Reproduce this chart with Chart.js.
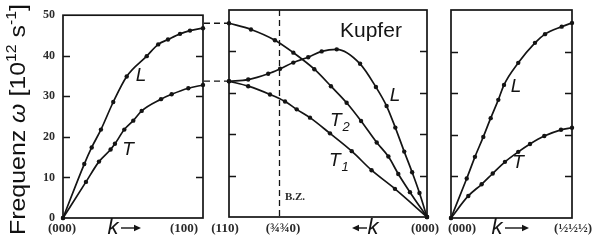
<!DOCTYPE html>
<html>
<head>
<meta charset="utf-8">
<title>Kupfer Phononen</title>
<script src="https://cdn.jsdelivr.net/npm/chart.js@4.4.0/dist/chart.umd.min.js"></script>
<style>
  body { margin: 0; background: #fff; }
  #wrap { position: relative; width: 599px; height: 240px; }
  canvas { position: absolute; left: 0; top: 0; }
</style>
</head>
<body>
<div id="wrap">
  <canvas id="c1" width="599" height="240"></canvas>
  <canvas id="c2" width="599" height="240"></canvas>
  <canvas id="c3" width="599" height="240"></canvas>
</div>
<script>
// frequency axis (10^12 s^-1)
var wTicks = [0, 10, 20, 30, 40, 50];

// (000) -> (100), k as fraction of the path
var k100L = [0, 0.152, 0.205, 0.271, 0.359, 0.455, 0.598, 0.68, 0.75, 0.836, 0.907, 1];
var w100L = [0, 13.3, 17.4, 21.8, 28.6, 34.9, 39.9, 42.8, 44.0, 45.4, 46.2, 46.8];
var k100T = [0, 0.164, 0.257, 0.34, 0.371, 0.438, 0.502, 0.562, 0.7, 0.776, 0.895, 1];
var w100T = [0, 8.9, 13.9, 16.9, 18.3, 21.8, 24.0, 26.4, 29.3, 30.5, 32.0, 32.8];

// (110) -> (000), 0 = (110)
var k110L = [0, 0.097, 0.198, 0.258, 0.325, 0.40, 0.468, 0.544, 0.662, 0.742, 0.796, 0.84, 0.885, 0.925, 0.962, 1];
var w110L = [32.8, 33.2, 34.6, 35.8, 37.3, 38.6, 40.0, 40.5, 37.0, 31.4, 26.8, 21.6, 15.8, 10.8, 5.8, 0];
var k110T2 = [0, 0.111, 0.232, 0.325, 0.431, 0.515, 0.594, 0.667, 0.746, 0.805, 0.855, 0.914, 1];
var w110T2 = [46.8, 45.3, 42.7, 39.7, 35.7, 31.6, 27.6, 23.2, 18.0, 14.6, 10.4, 6.0, 0];
var k110T1 = [0, 0.097, 0.207, 0.283, 0.342, 0.409, 0.51, 0.62, 0.72, 0.838, 1];
var w110T1 = [32.8, 31.6, 29.6, 27.9, 26.0, 24.0, 20.2, 15.9, 11.3, 6.8, 0];
var zoneEdge = 0.25; // (3/4 3/4 0)

// (000) -> (1/2 1/2 1/2)
var k111L = [0, 0.13, 0.198, 0.267, 0.328, 0.391, 0.438, 0.556, 0.694, 0.777, 0.915, 1];
var w111L = [0, 9.5, 14.7, 19.5, 24.0, 28.4, 32.0, 37.3, 42.1, 44.2, 46.0, 46.9];
var k111T = [0, 0.143, 0.253, 0.345, 0.446, 0.556, 0.653, 0.771, 0.909, 1];
var w111T = [0, 5.3, 8.1, 10.7, 13.5, 15.9, 17.8, 19.7, 21.2, 21.7];

var ink = '#141414';
var serif = '"Liberation Serif", serif';
var sans = '"Liberation Sans", Arial, sans-serif';
var kfont = 'bold 13px ' + serif;

function series(ks, ws) {
  return {
    data: ks.map(function(k, i) { return { x: k, y: ws[i] }; }),
    borderColor: ink,
    backgroundColor: ink,
    borderWidth: 1.7,
    pointRadius: 2.2,
    pointHoverRadius: 2.2,
    pointBorderWidth: 0,
    cubicInterpolationMode: 'monotone',
    clip: 6
  };
}

function txt(c, s, x, y, font, align, base) {
  c.font = font;
  c.textAlign = align || 'center';
  c.textBaseline = base || 'middle';
  c.fillText(s, x, y);
}

function arrow(c, x1, x2, y) {
  var d = x2 > x1 ? 1 : -1;
  c.beginPath();
  c.moveTo(x1, y); c.lineTo(x2 - d * 5, y);
  c.lineWidth = 1.4;
  c.stroke();
  c.beginPath();
  c.moveTo(x2, y); c.lineTo(x2 - d * 7, y - 3.2); c.lineTo(x2 - d * 7, y + 3.2);
  c.closePath();
  c.fill();
}

function sub(c, base, s, x, y) {
  txt(c, base, x, y, 'italic 19px ' + sans, 'left', 'alphabetic');
  var w = c.measureText(base).width;
  txt(c, s, x + w + 1, y + 5, 'italic 13px ' + sans, 'left', 'alphabetic');
}

var frame = {
  id: 'frame',
  afterDraw: function(chart) {
    var a = chart.chartArea, c = chart.ctx, y = chart.scales.y;
    c.save();
    c.strokeStyle = ink;
    c.lineWidth = 1.7;
    c.strokeRect(a.left, a.top, a.right - a.left, a.bottom - a.top);
    c.lineWidth = 1.3;
    wTicks.slice(1, -1).forEach(function(v) {
      var py = Math.round(y.getPixelForValue(v)) + 0.5;
      c.beginPath();
      c.moveTo(a.left, py); c.lineTo(a.left + 7, py);
      c.moveTo(a.right, py); c.lineTo(a.right - 7, py);
      c.stroke();
    });
    c.restore();
  }
};

function makeChart(id, pad, sets, showY, draw) {
  return new Chart(document.getElementById(id), {
    type: 'line',
    data: { datasets: sets },
    options: {
      responsive: false,
      animation: false,
      layout: { padding: pad },
      plugins: { legend: { display: false }, tooltip: { enabled: false } },
      scales: {
        x: { type: 'linear', min: 0, max: 1, display: false },
        y: {
          type: 'linear',
          min: wTicks[0],
          max: wTicks[wTicks.length - 1],
          display: showY,
          grid: { display: false, drawTicks: false },
          border: { display: false },
          ticks: {
            stepSize: 10,
            padding: 8,
            color: '#2a2a2a',
            font: { family: serif, size: 12, weight: 'bold' }
          },
          afterFit: function(s) { s.width = showY ? 63 : 0; }
        }
      }
    },
    plugins: [frame, { id: 'deco', afterDraw: draw }]
  });
}

makeChart('c1', { left: 0, top: 10, right: 396, bottom: 22 },
  [series(k100L, w100L), series(k100T, w100T)], true,
  function(chart) {
    var c = chart.ctx, a = chart.chartArea;
    c.save();
    c.fillStyle = ink; c.strokeStyle = ink;
    txt(c, 'L', 141, 76, 'italic 19px ' + sans);
    txt(c, 'T', 128, 150, 'italic 19px ' + sans);
    c.fillStyle = '#2a2a2a';
    txt(c, '(000)', a.left - 1, 229, kfont);
    txt(c, '(100)', 184, 229, kfont);
    c.fillStyle = ink;
    txt(c, 'k', 113, 228, 'italic 22px ' + sans);
    arrow(c, 121, 141, 228);

    // axis title, rotated, stretched to the height of the figure
    var segs = [
      { t: 'Frequenz ', f: '22px ' + sans, dy: 0 },
      { t: '\u03c9', f: 'italic 22px ' + sans, dy: 0 },
      { t: ' [10', f: '22px ' + sans, dy: 0 },
      { t: '12', f: '14px ' + sans, dy: -9 },
      { t: ' s', f: '22px ' + sans, dy: 0 },
      { t: '-1', f: '14px ' + sans, dy: -9 },
      { t: ']', f: '22px ' + sans, dy: 0 }
    ];
    var total = 0;
    segs.forEach(function(s) { c.font = s.f; s.w = c.measureText(s.t).width; total += s.w; });
    c.translate(25, 235);
    c.rotate(-Math.PI / 2);
    c.scale(231 / total, 1);
    var x = 0;
    c.fillStyle = '#111';
    segs.forEach(function(s) {
      txt(c, s.t, x, s.dy, s.f, 'left', 'alphabetic');
      x += s.w;
    });
    c.restore();
  });

makeChart('c2', { left: 229, top: 10, right: 172, bottom: 23 },
  [series(k110L, w110L), series(k110T2, w110T2), series(k110T1, w110T1)], false,
  function(chart) {
    var c = chart.ctx, a = chart.chartArea, xs = chart.scales.x, ys = chart.scales.y;
    c.save();
    c.strokeStyle = ink; c.fillStyle = ink;
    c.lineWidth = 1.3;
    c.setLineDash([6, 4]);
    c.beginPath();
    var xe = Math.round(xs.getPixelForValue(zoneEdge)) + 0.5;
    c.moveTo(xe, a.top); c.lineTo(xe, a.bottom);
    [w100L[w100L.length - 1], w100T[w100T.length - 1]].forEach(function(v) {
      var py = ys.getPixelForValue(v);
      c.moveTo(204, py); c.lineTo(a.left, py);
    });
    c.stroke();
    c.setLineDash([]);
    txt(c, 'Kupfer', 340, 37, '21px ' + sans, 'left', 'alphabetic');
    txt(c, 'L', 395, 96, 'italic 19px ' + sans);
    sub(c, 'T', '2', 330, 126);
    sub(c, 'T', '1', 329, 166);
    c.fillStyle = '#2a2a2a';
    txt(c, 'B.Z.', 295, 197, 'bold 11px ' + serif);
    txt(c, '(110)', 225, 229, kfont);
    txt(c, '(\u00be\u00be0)', 283, 229, kfont);
    txt(c, '(000)', a.right - 2, 229, kfont);
    c.fillStyle = ink;
    arrow(c, 367, 352, 228);
    txt(c, 'k', 373, 228, 'italic 22px ' + sans);
    c.restore();
  });

makeChart('c3', { left: 451, top: 10, right: 27, bottom: 22 },
  [series(k111L, w111L), series(k111T, w111T)], false,
  function(chart) {
    var c = chart.ctx, a = chart.chartArea;
    c.save();
    c.strokeStyle = ink; c.fillStyle = ink;
    txt(c, 'L', 516, 87, 'italic 19px ' + sans);
    txt(c, 'T', 518, 163, 'italic 19px ' + sans);
    c.fillStyle = '#2a2a2a';
    txt(c, '(000)', 462, 229, kfont);
    txt(c, '(\u00bd\u00bd\u00bd)', 573, 229, kfont);
    c.fillStyle = ink;
    txt(c, 'k', 497, 228, 'italic 22px ' + sans);
    arrow(c, 505, 529, 228);
    c.restore();
  });
</script>
</body>
</html>
